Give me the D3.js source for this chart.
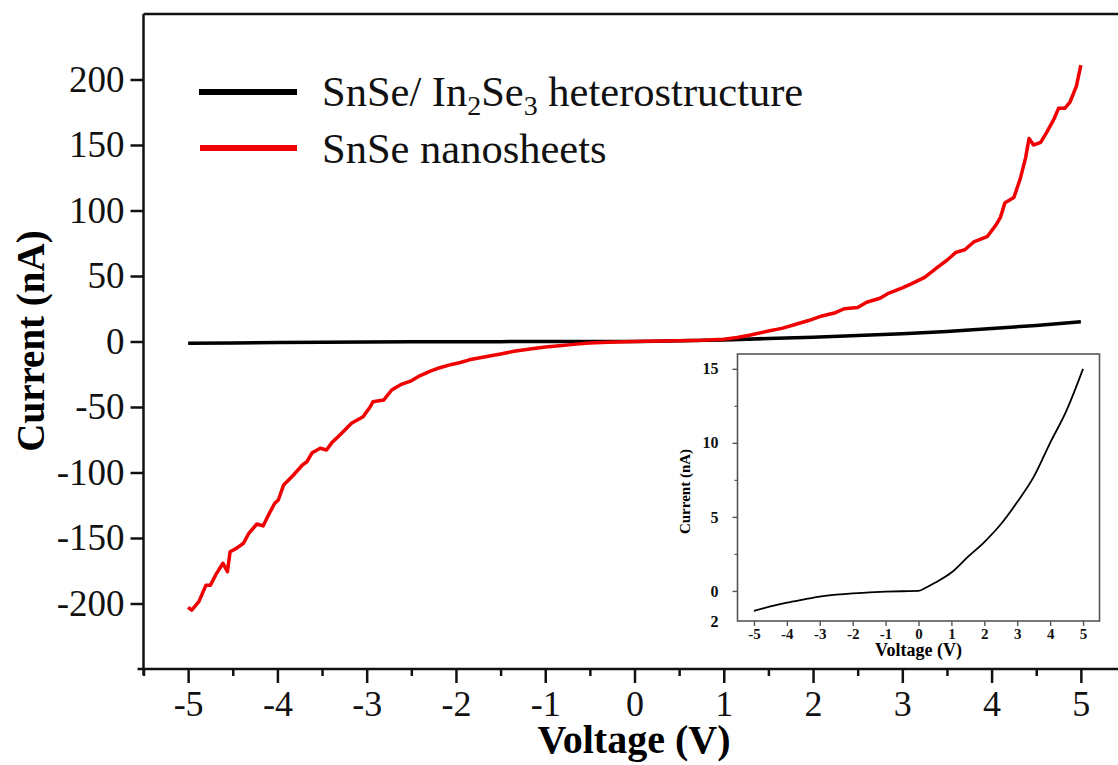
<!DOCTYPE html>
<html>
<head>
<meta charset="utf-8">
<script src="https://cdn.jsdelivr.net/npm/d3@7"></script>
<style>
  html, body { margin: 0; padding: 0; background: #fff; }
  svg { display: block; font-family: "Liberation Serif", "Times New Roman", serif; }
</style>
</head>
<body>
<svg id="chart" width="1118" height="765"></svg>
<script>
// ── Data ────────────────────────────────────────────────
// SnSe nanosheets (red)
const redV = [-5.00, -4.96, -4.88, -4.80, -4.75, -4.69, -4.61, -4.56, -4.53, -4.46, -4.38, -4.32, -4.23, -4.16, -4.10,
  -4.03, -3.99, -3.93, -3.82, -3.72, -3.67, -3.61, -3.52, -3.45, -3.39, -3.30, -3.17, -3.04, -2.96, -2.93, -2.81,
  -2.72, -2.62, -2.50, -2.40, -2.28, -2.18, -2.05, -1.95, -1.85, -1.70, -1.50, -1.35, -1.17, -1.00, -0.84, -0.65,
  -0.50, -0.30, 0.00, 0.30, 0.50, 0.75, 1.00, 1.15, 1.30, 1.50, 1.65, 1.80, 1.95, 2.10, 2.25, 2.35, 2.50, 2.60,
  2.75, 2.85, 3.00, 3.10, 3.25, 3.40, 3.50, 3.60, 3.70, 3.80, 3.95, 4.05, 4.10, 4.15, 4.25, 4.32, 4.38, 4.42,
  4.47, 4.55, 4.62, 4.70, 4.75, 4.82, 4.88, 4.95, 5.00];
const redI = [-202.9, -205, -198.6, -186, -186, -178, -169.3, -175.7, -160.5, -157.9, -154, -146.4, -139.3, -140.8, -132.4,
  -123.5, -121, -109.5, -101.9, -94.3, -91.8, -84.9, -81.5, -82.8, -77.2, -71.4, -62.4, -57.4, -49.8, -46, -44.7,
  -37, -33, -30, -26, -22.5, -20, -17.5, -16, -14, -12, -9.5, -7.5, -5.7, -4.2, -3.2, -2,
  -1.1, -0.5, 0, 0.3, 0.6, 1, 1.8, 3, 5, 8, 10, 13, 16, 19.5, 22, 25, 26, 30,
  33, 37, 41, 44, 49, 57, 62, 68, 70, 76, 80, 89, 95, 106, 110, 124, 140, 155,
  150, 152, 160, 170, 178, 178, 183, 195, 211];

// SnSe/In2Se3 heterostructure (black), also shown in the inset
const blackV = [-5, -4.5, -4, -3.5, -3, -2.5, -2, -1.5, -1, -0.5, 0, 0.25, 0.5, 1, 1.5, 2, 2.5, 3, 3.5, 4, 4.5, 5];
const blackI = [-1.35, -1.05, -0.79, -0.58, -0.38, -0.25, -0.16, -0.1, -0.05, -0.02, 0, 0.25, 0.55, 1.24, 2.3, 3.3, 4.5, 6.0, 7.7, 10.0, 12.2, 15.0];

const xMajor = [-5, -4, -3, -2, -1, 0, 1, 2, 3, 4, 5];
const xMinor = [-5.5, -4.5, -3.5, -2.5, -1.5, -0.5, 0.5, 1.5, 2.5, 3.5, 4.5];
const yMajor = [-200, -150, -100, -50, 0, 50, 100, 150, 200];

const insetYMajor = [0, 5, 10, 15];
const insetYMinor = [2.5, 7.5, 12.5];
const insetXMajor = [-5, -4, -3, -2, -1, 0, 1, 2, 3, 4, 5];

const legendItems = [
  { name: 'heterostructure', color: '#000' },
  { name: 'nanosheets', color: '#f00000' }
];

// ── Main plot ───────────────────────────────────────────
const svg = d3.select('#chart');
const L = 143.5, R = 1125.5, T = 14, B = 669;

const x = d3.scaleLinear().domain([-5.5, 5.5]).range([L, R]);
const y = d3.scaleLinear().domain([-250, 250]).range([B, T]);

// frame top/right
svg.append('path')
  .attr('d', `M${L},${T}H${R}V${B}`)
  .attr('fill', 'none').attr('stroke', '#111').attr('stroke-width', 2.5);

// bottom axis – major
const gx = svg.append('g').attr('transform', `translate(0,${B})`)
  .call(d3.axisBottom(x).tickValues(xMajor).tickSize(14).tickSizeOuter(0).tickPadding(7)
    .tickFormat(d => d < 0 ? '-' + Math.abs(d) : d));
gx.select('.domain').attr('d', `M${L - 6},0H${R}`).attr('stroke-width', 2.5).attr('stroke', '#111');
gx.selectAll('.tick line').attr('stroke-width', 2.5).attr('stroke', '#111');
gx.selectAll('.tick text').attr('font-size', 36).attr('fill', '#111').attr('font-family', 'Liberation Serif');

// bottom axis – minor
const gxm = svg.append('g').attr('transform', `translate(0,${B})`)
  .call(d3.axisBottom(x).tickValues(xMinor).tickSize(7).tickFormat(''));
gxm.select('.domain').remove();
gxm.selectAll('.tick line').attr('stroke-width', 2.5).attr('stroke', '#111');

// left axis
const gy = svg.append('g').attr('transform', `translate(${L},0)`)
  .call(d3.axisLeft(y).tickValues(yMajor).tickSize(13).tickSizeOuter(0).tickPadding(6)
    .tickFormat(d => d < 0 ? '-' + Math.abs(d) : d));
gy.select('.domain').attr('d', `M0,${T}V${B + 6}`).attr('stroke-width', 2.5).attr('stroke', '#111');
gy.selectAll('.tick line').attr('stroke-width', 2.5).attr('stroke', '#111');
gy.selectAll('.tick text').attr('font-size', 37).attr('fill', '#111').attr('font-family', 'Liberation Serif');

// axis titles
svg.append('text')
  .attr('x', 634).attr('y', 753)
  .attr('text-anchor', 'middle').attr('font-size', 40).attr('font-weight', 'bold')
  .text('Voltage (V)');
svg.append('text')
  .attr('transform', `translate(44,341) rotate(-90)`)
  .attr('text-anchor', 'middle').attr('font-size', 39).attr('font-weight', 'bold')
  .text('Current (nA)');

// curves
const line = d3.line().x(d => x(d[0])).y(d => y(d[1]));
svg.append('path')
  .datum(d3.zip(blackV, blackI))
  .attr('d', line).attr('fill', 'none').attr('stroke', '#000').attr('stroke-width', 3.5);
svg.append('path')
  .datum(d3.zip(redV, redI))
  .attr('d', line).attr('fill', 'none').attr('stroke', legendItems[1].color)
  .attr('stroke-width', 3.5).attr('stroke-linejoin', 'round');

// legend
const lg = svg.append('g');
lg.append('line').attr('x1', 199).attr('x2', 297).attr('y1', 92).attr('y2', 92)
  .attr('stroke', legendItems[0].color).attr('stroke-width', 6);
lg.append('line').attr('x1', 200).attr('x2', 297).attr('y1', 148).attr('y2', 148)
  .attr('stroke', legendItems[1].color).attr('stroke-width', 6);
const t1 = lg.append('text').attr('x', 322).attr('y', 106).attr('font-size', 42.5).attr('fill', '#111');
t1.append('tspan').text('SnSe/ In');
t1.append('tspan').attr('font-size', 28).attr('dy', 9).text('2');
t1.append('tspan').attr('dy', -9).text('Se');
t1.append('tspan').attr('font-size', 28).attr('dy', 9).text('3');
t1.append('tspan').attr('dy', -9).text(' heterostructure');
lg.append('text').attr('x', 322).attr('y', 163).attr('font-size', 42.5).attr('fill', '#111')
  .text('SnSe nanosheets');

// ── Inset ───────────────────────────────────────────────
const iL = 737.5, iR = 1099.5, iT = 354, iB = 621;
const ix = d3.scaleLinear().domain([-5.5, 5.5]).range([iL, iR]);
const iy = d3.scaleLinear().domain([-2.03, 16]).range([iB, iT]);

svg.append('rect')
  .attr('x', iL).attr('y', iT).attr('width', iR - iL).attr('height', iB - iT)
  .attr('fill', '#fff').attr('stroke', '#555').attr('stroke-width', 1.6);

const ixa = svg.append('g').attr('transform', `translate(0,${iB})`)
  .call(d3.axisBottom(ix).tickValues(insetXMajor).tickSize(5).tickSizeOuter(0).tickPadding(2)
    .tickFormat(d => d < 0 ? '-' + Math.abs(d) : d));
ixa.select('.domain').remove();
ixa.selectAll('.tick line').attr('stroke', '#555').attr('stroke-width', 1.4);
ixa.selectAll('.tick text').attr('font-size', 15).attr('font-weight', 'bold')
  .attr('fill', '#111').attr('font-family', 'Liberation Serif');

const iya = svg.append('g').attr('transform', `translate(${iL},0)`)
  .call(d3.axisLeft(iy).tickValues(insetYMajor).tickSize(5).tickSizeOuter(0).tickPadding(14));
iya.select('.domain').remove();
iya.selectAll('.tick line').attr('stroke', '#555').attr('stroke-width', 1.4);
iya.selectAll('.tick text').attr('font-size', 16).attr('font-weight', 'bold')
  .attr('fill', '#111').attr('font-family', 'Liberation Serif');
const iym = svg.append('g').attr('transform', `translate(${iL},0)`)
  .call(d3.axisLeft(iy).tickValues(insetYMinor).tickSize(3).tickFormat(''));
iym.select('.domain').remove();
iym.selectAll('.tick line').attr('stroke', '#555').attr('stroke-width', 1.2);

// partly clipped bottom label as in the figure
svg.append('text').attr('x', iL - 19).attr('y', iy(-2) + 6)
  .attr('text-anchor', 'end').attr('font-size', 16).attr('font-weight', 'bold').text('2');

svg.append('text')
  .attr('x', ix(0)).attr('y', 656)
  .attr('text-anchor', 'middle').attr('font-size', 18).attr('font-weight', 'bold')
  .text('Voltage (V)');
svg.append('text')
  .attr('transform', `translate(690,${(iT + iB) / 2 + 4}) rotate(-90)`)
  .attr('text-anchor', 'middle').attr('font-size', 15).attr('font-weight', 'bold')
  .text('Current (nA)');

const iline = d3.line().curve(d3.curveMonotoneX).x(d => ix(d[0])).y(d => iy(d[1]));
svg.append('path')
  .datum(d3.zip(blackV, blackI))
  .attr('d', iline).attr('fill', 'none').attr('stroke', '#000').attr('stroke-width', 1.8);
</script>
</body>
</html>
